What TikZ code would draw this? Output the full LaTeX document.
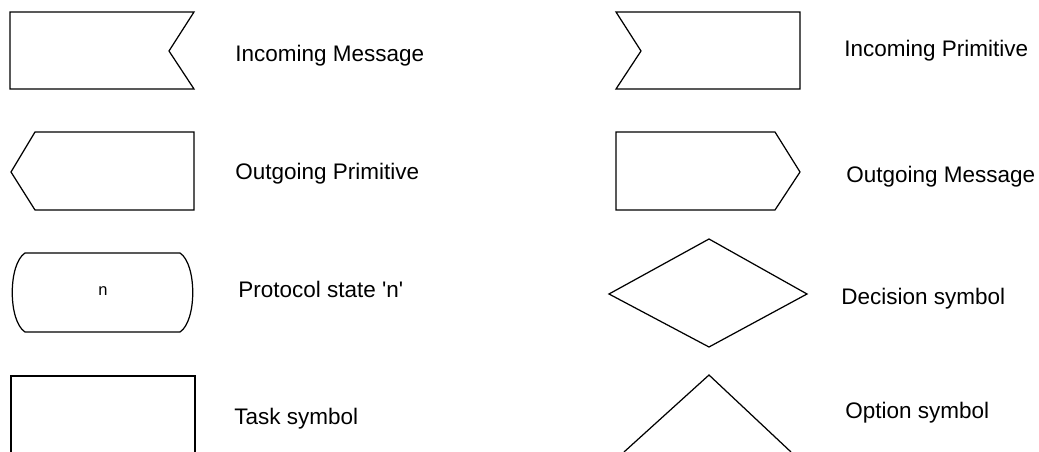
\documentclass[tikz,border=0pt]{standalone}
\usepackage{fontspec}
\setmainfont{Liberation Sans}

\begin{document}
\begin{tikzpicture}[
    x=0.02cm, y=-0.02cm,
    symbol/.style={draw=black, line width=0.7pt, line join=miter},
    caption/.style={anchor=base west, inner sep=0pt, font=\fontsize{12.8}{15}\selectfont},
]
    \useasboundingbox (0,0) rectangle (1039,452);

    \draw[symbol] (10,12) -- (194,12) -- (169,51) -- (194,89) -- (10,89) -- cycle;
    \draw[symbol] (35,132) -- (194,132) -- (194,210) -- (35,210) -- (11,172) -- cycle;
    \draw[symbol] (25,253) -- (180,253) .. controls (197,264) and (197,321) .. (180,332)
        -- (25,332) .. controls (8,321) and (8,264) .. (25,253) -- cycle;
    \draw[symbol] (11,452) -- (11,376) -- (195,376) -- (195,452);

    \draw[symbol] (616,12) -- (800,12) -- (800,89) -- (616,89) -- (641,51) -- cycle;
    \draw[symbol] (616,132) -- (775,132) -- (800,172) -- (775,210) -- (616,210) -- cycle;
    \draw[symbol] (709,239) -- (807,294) -- (709,347) -- (609,294) -- cycle;
    \draw[symbol] (624,452) -- (709,375) -- (791,452);

    \node[font=\fontsize{9.4}{11}\selectfont] (S1) at (103,291) {n};

    \node[caption] (L1) at (235,62) {Incoming Message};
    \node[caption] (L2) at (235,180) {Outgoing Primitive};
    \node[caption] (L3) at (238,298) {Protocol state \textquotesingle n\textquotesingle};
    \node[caption] (L4) at (234,425) {Task symbol};

    \node[caption] (R1) at (844,57) {Incoming Primitive};
    \node[caption] (R2) at (846,183) {Outgoing Message};
    \node[caption] (R3) at (841,305) {Decision symbol};
    \node[caption] (R4) at (845,419) {Option symbol};
\end{tikzpicture}
\end{document}
